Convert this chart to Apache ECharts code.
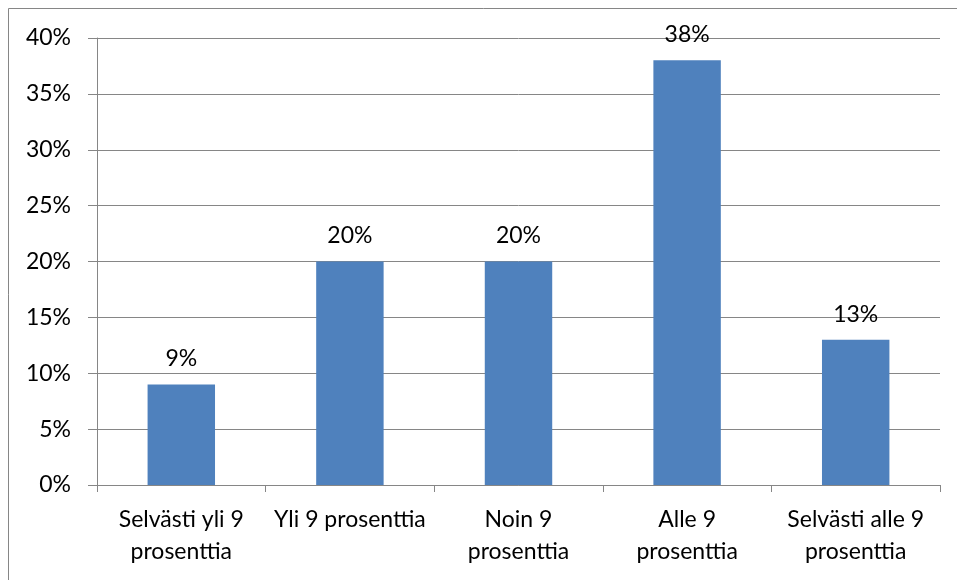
<!DOCTYPE html>
<html>
<head>
<meta charset="utf-8">
<script src="https://cdn.jsdelivr.net/npm/echarts@6/dist/echarts.min.js"></script>
<style>html,body{margin:0;padding:0;background:#fff}#c{width:957px;height:580px}</style>
</head>
<body>
<div id="c"></div>
<script>
var categories = ['Selvästi yli 9\nprosenttia', 'Yli 9 prosenttia', 'Noin 9\nprosenttia', 'Alle 9\nprosenttia', 'Selvästi alle 9\nprosenttia'];
var values = [9, 20, 20, 38, 13];
var yTicks = [0, 5, 10, 15, 20, 25, 30, 35, 40];

var chart = echarts.init(document.getElementById('c'), null, {renderer: 'canvas'});
var font = 'Lato, "Open Sans", sans-serif';
var gray = '#868686';
chart.setOption({
  animation: false,
  graphic: [{
    type: 'rect', shape: {x: 8.5, y: 8.5, width: 1200, height: 1200},
    style: {fill: 'none', stroke: gray, lineWidth: 1}, silent: true
  }],
  grid: {left: 97, right: 17, top: 38, bottom: 95, containLabel: false},
  xAxis: {
    type: 'category', data: categories,
    axisLine: {lineStyle: {color: gray, width: 1}},
    axisTick: {show: true, length: 7, lineStyle: {color: gray}, alignWithLabel: false},
    axisLabel: {color: '#000', fontFamily: font, fontSize: 23, lineHeight: 32, margin: 19, interval: 0}
  },
  yAxis: {
    type: 'value', min: yTicks[0], max: yTicks[yTicks.length - 1], interval: 5,
    axisLine: {show: true, lineStyle: {color: gray, width: 1}},
    axisTick: {show: true, length: 9, lineStyle: {color: gray}},
    splitLine: {lineStyle: {color: gray, width: 1}},
    axisLabel: {color: '#000', fontFamily: font, fontSize: 23, margin: 26, formatter: '{value}%'}
  },
  series: [{
    type: 'bar', data: values, barWidth: '40%',
    itemStyle: {color: '#4F81BD'},
    label: {show: true, position: 'top', distance: 14, color: '#000', fontFamily: font, fontSize: 23, formatter: '{c}%'}
  }]
});
</script>
</body>
</html>
